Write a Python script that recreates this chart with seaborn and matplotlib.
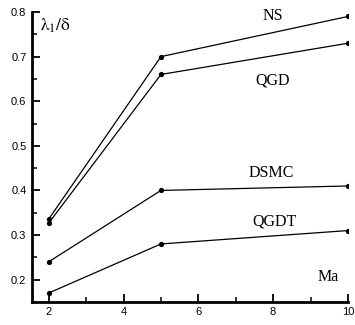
import matplotlib
matplotlib.use("Agg")
import matplotlib.pyplot as plt
import seaborn as sns
import pandas as pd
from matplotlib.ticker import MultipleLocator

ma = [2, 5, 10]
ns = [0.336, 0.70, 0.79]
qgd = [0.327, 0.66, 0.73]
dsmc = [0.24, 0.40, 0.41]
qgdt = [0.17, 0.28, 0.31]
names = ["NS", "QGD", "DSMC", "QGDT"]

sns.set_theme(style="ticks")
plt.rcParams['font.family'] = ['Liberation Sans', 'DejaVu Sans']

rows = []
for n, vals in zip(names, [ns, qgd, dsmc, qgdt]):
    for m, v in zip(ma, vals):
        rows.append({"Ma": m, "val": v, "series": n})
df = pd.DataFrame(rows)

fig = plt.figure(figsize=(3.55, 3.25), dpi=100)
ax = fig.add_axes([0.090, 0.071, 0.890, 0.892])
sns.lineplot(data=df, x="Ma", y="val", units="series", estimator=None,
             color="black", lw=0.9, marker="o", markersize=3.8,
             markeredgewidth=0, ax=ax, legend=False)
ax.set_xlim(1.55, 10)
ax.set_ylim(0.15, 0.8)
ax.set_xlabel("")
ax.set_ylabel("")
ax.xaxis.set_minor_locator(MultipleLocator(1))
ax.yaxis.set_minor_locator(MultipleLocator(0.05))
ax.set_xticks([2, 4, 6, 8, 10])
ax.set_yticks([0.2, 0.3, 0.4, 0.5, 0.6, 0.7, 0.8])
ax.set_yticklabels(["0.2", "0.3", "0.4", "0.5", "0.6", "0.7", "0.8"])
ax.tick_params(which="major", direction="in", length=6, width=1.3, labelsize=8, colors="black", pad=4)
ax.tick_params(which="minor", direction="in", length=3.5, width=1.3)
for s in ["top", "right"]:
    ax.spines[s].set_visible(False)
for s in ["left", "bottom"]:
    ax.spines[s].set_linewidth(2)
    ax.spines[s].set_color("black")

serif = dict(family=["Liberation Serif", "DejaVu Serif"], fontsize=11.5, color="black")
ax.text(8.0, 0.791, "NS", ha="center", va="center", **serif)
ax.text(8.0, 0.647, "QGD", ha="center", va="center", **serif)
ax.text(7.95, 0.440, "DSMC", ha="center", va="center", **serif)
ax.text(8.03, 0.330, "QGDT", ha="center", va="center", **serif)
ax.text(9.47, 0.207, "Ma", ha="center", va="center", **serif)
ax.text(1.77, 0.769, r"$\mathrm{\lambda_1/\delta}$", ha="left", va="center", fontsize=12.5,
        math_fontfamily="stix", color="black")

fig.savefig("out.png", dpi=100)
